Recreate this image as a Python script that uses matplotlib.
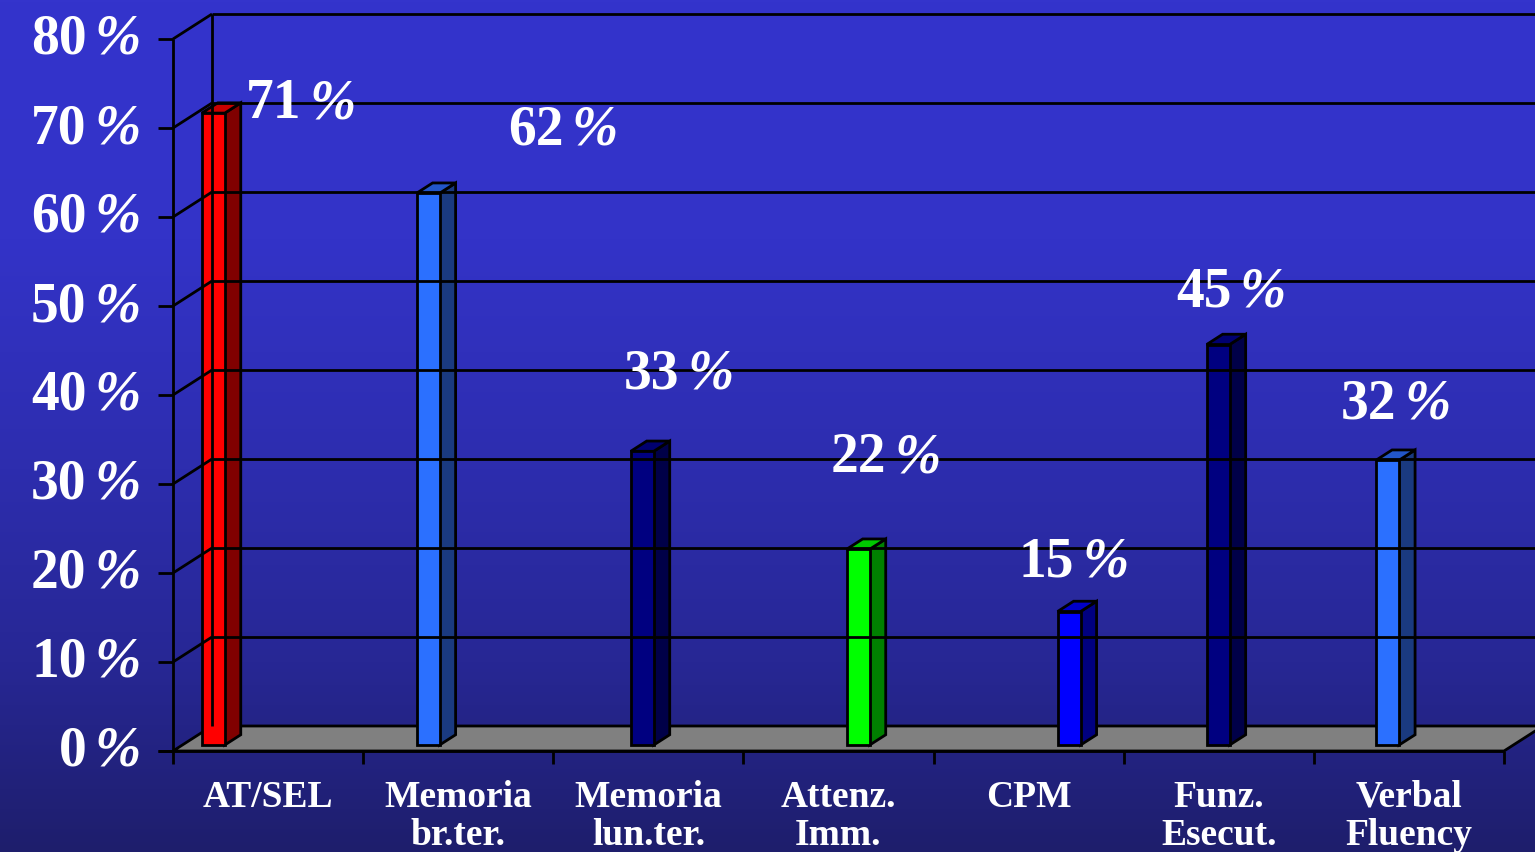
import numpy as np
import matplotlib.pyplot as plt
from matplotlib.patches import Polygon
from matplotlib.colors import LinearSegmentedColormap

categories = ['AT/SEL', 'Memoria\nbr.ter.', 'Memoria\nlun.ter.', 'Attenz.\nImm.',
              'CPM', 'Funz.\nEsecut.', 'Verbal\nFluency']
values = [71, 62, 33, 22, 15, 45, 32]
yticks = [0, 10, 20, 30, 40, 50, 60, 70, 80]

# where each bar sits along the category axis (front-face left edge)
bar_left = [0.102, 1.232, 2.358, 3.494, 4.603, 5.387, 6.278]
# nudges for the value labels (x in categories, y in percent above the bar)
label_dx = [0.566, 0.814, 0.298, 0.251, 0.130, 0.172, 0.149]
label_dy = [1.8, 7.8, 9.4, 11.0, 6.3, 6.6, 7.0]

# front / side / top shades
bar_colors = [
    ('#ff0000', '#800000', '#c80000'),
    ('#2b70ff', '#1a3a80', '#2256c8'),
    ('#000080', '#000048', '#000070'),
    ('#00ff00', '#008000', '#00c800'),
    ('#0000ff', '#000080', '#0000c8'),
    ('#000080', '#000048', '#000070'),
    ('#2b70ff', '#1a3a80', '#2256c8'),
]

W, H = 1535, 853
NCAT, YMAX = 7, 80
DX = 39 / (1331 / NCAT)   # depth shift in category units
DY = 25 / (712 / YMAX)    # depth shift in percent units
BW = 0.121                # bar width
D0, D1 = 0.24, 0.65       # bar depth (front, back)
LW = 2.0

font = dict(family='Liberation Serif', weight='bold', color='white')


def proj(x, y, d):
    return (x + d * DX, y + d * DY)


def pct_label(ax, x, y, num, split, size=40):
    # number upright, percent sign slanted, joined at `split` points
    ax.annotate(num, (x, y), xytext=(split - 2, 0), textcoords='offset points',
                ha='right', va='center', fontsize=size, annotation_clip=False, **font)
    ax.annotate('%', (x, y), xytext=(split + 4, 0), textcoords='offset points',
                ha='left', va='center', fontsize=size, style='italic',
                annotation_clip=False, **font)


fig = plt.figure(figsize=(W / 100, H / 100), dpi=100)

# background gradient
bg = fig.add_axes([0, 0, 1, 1])
cmap = LinearSegmentedColormap.from_list(
    'bg', [(0, '#3434cc'), (0.28, '#3333c8'), (0.55, '#2d2dae'),
           (0.78, '#272794'), (1, '#1e1e6c')])
bg.imshow(np.linspace(0, 1, 256)[:, None], aspect='auto', cmap=cmap,
          extent=[0, 1, 0, 1])
bg.set_axis_off()

ax = fig.add_axes([173 / W, (H - 752) / H, 1331 / W, 712 / H])
ax.set_xlim(0, NCAT)
ax.set_ylim(0, YMAX)
ax.set_axis_off()
ax.patch.set_alpha(0)

kw = dict(color='black', lw=LW, clip_on=False, solid_capstyle='butt')

# back wall grid and side wall diagonals
for t in yticks[1:]:
    ax.plot([DX, NCAT + DX + 0.2], [t + DY, t + DY], **kw)
    ax.plot([0, DX], [t, t + DY], **kw)
ax.plot([DX, DX], [DY, YMAX + DY], **kw)

# floor
floor = Polygon([(0, 0), (NCAT, 0), (NCAT + DX, DY), (DX + 0.2 + NCAT, DY), (DX, DY)],
                closed=True, facecolor='#808080', edgecolor='black', lw=LW,
                clip_on=False, joinstyle='miter')
ax.add_patch(floor)

# bars
for i, v in enumerate(values):
    x0, x1 = bar_left[i], bar_left[i] + BW
    front, side, top = bar_colors[i]
    faces = [
        ([proj(x1, 0, D0), proj(x1, 0, D1), proj(x1, v, D1), proj(x1, v, D0)], side),
        ([proj(x0, v, D0), proj(x1, v, D0), proj(x1, v, D1), proj(x0, v, D1)], top),
        ([proj(x0, 0, D0), proj(x1, 0, D0), proj(x1, v, D0), proj(x0, v, D0)], front),
    ]
    for pts, c in faces:
        ax.add_patch(Polygon(pts, closed=True, facecolor=c, edgecolor='black',
                             lw=LW, clip_on=False, joinstyle='miter'))
    pct_label(ax, x0 + label_dx[i], v + label_dy[i], str(v), 3)

# front axes
ax.plot([0, 0], [-1.5, YMAX], **kw)
for t in yticks:
    ax.plot([-0.079, 0], [t, t], **kw)
    pct_label(ax, -0.44, t, str(t), 0)
ax.plot([-0.079, NCAT], [0, 0], **kw)
for k in range(1, NCAT + 1):
    ax.plot([k, k], [-1.5, 0], **kw)

for i, c in enumerate(categories):
    ax.text(i + 0.5, -3.1, c, ha='center', va='top', fontsize=27,
            linespacing=1.12, **font)

fig.savefig('out.png', dpi=100)
